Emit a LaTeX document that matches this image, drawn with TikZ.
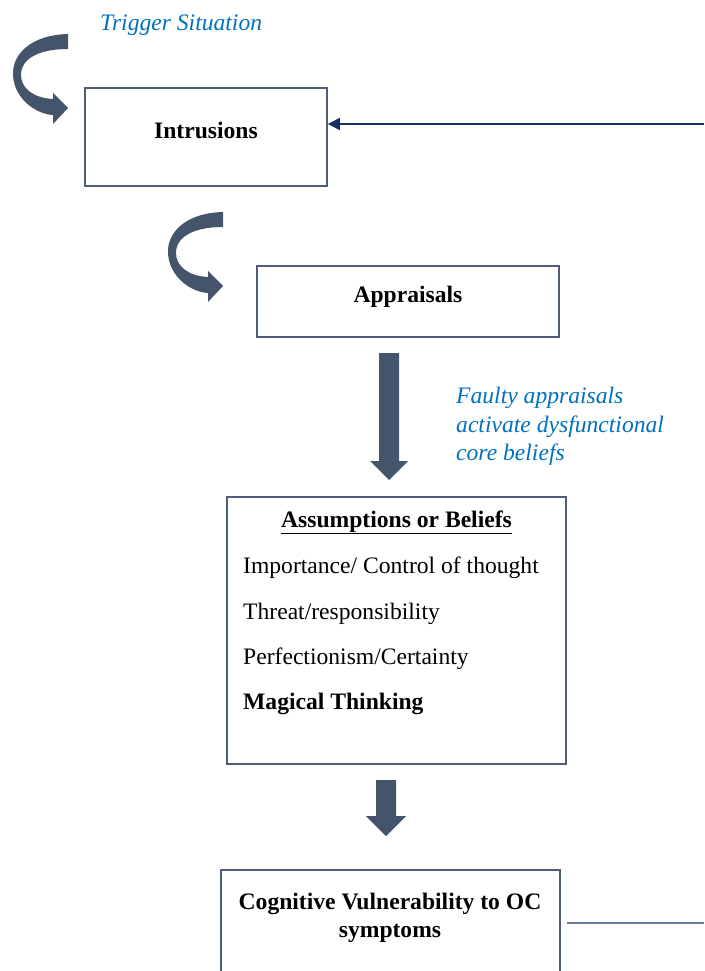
\documentclass[tikz,border=0pt]{standalone}
\usepackage{fontspec}
\setmainfont{Liberation Serif}
\usetikzlibrary{arrows.meta}
\definecolor{slate}{HTML}{44546A}
\definecolor{boxline}{HTML}{4E5E7C}
\definecolor{noteblue}{HTML}{0070C0}
\definecolor{navy}{HTML}{14306A}
\definecolor{loopgray}{HTML}{6B7A97}
\tikzset{
  % ribbon-like curved block arrow, origin at the top end of the outer edge
  curvearrow/.pic={
    \fill[slate] (0,0) .. controls (-38,1) and (-56,21) .. (-55,41)
      .. controls (-54,64) and (-33,80) .. (-15,81)
      -- (-15,90) -- (0,74) -- (-15,59) -- (-15,65)
      .. controls (-35,64) and (-47,54) .. (-47,41)
      .. controls (-47,24) and (-28,15) .. (0,15) -- cycle;
  }
}
\begin{document}
\begin{tikzpicture}[x=1pt,y=-1pt,
  txt/.style={inner sep=0pt, font=\fontsize{23.6pt}{29pt}\selectfont},
  note/.style={inner sep=0pt, text=noteblue, font=\fontsize{23.6pt}{29pt}\selectfont\itshape},
  stage/.style={draw=boxline, line width=1.6pt, fill=white, inner sep=0pt},
  block/.style={fill=slate}]
\useasboundingbox (0,0) rectangle (704,971);
\clip (0,0) rectangle (704,971);

% curved arrows into the first two stages
\pic at (68,34) {curvearrow};
\pic at (223,212) {curvearrow};

% stage boxes
\node[stage, minimum width=242pt, minimum height=98pt] (intr) at (206,137) {};
\node[stage, minimum width=302pt, minimum height=71pt] (appr) at (408,301.5) {};
\node[stage, minimum width=339pt, minimum height=267pt] (assum) at (396.5,630.5) {};
\node[stage, minimum width=339pt, minimum height=160pt] (cog) at (390.5,950) {};

% box texts
\node[txt, anchor=base] (intrT) at (206,139) {\textbf{Intrusions}};
\node[txt, anchor=base] (apprT) at (408,302) {\textbf{Appraisals}};
\node[txt, anchor=base] (assumT) at (396.5,527) {\underline{\textbf{Assumptions or Beliefs}}};
\node[txt, anchor=base west] (itemA) at (243,573) {Importance/ Control of thought};
\node[txt, anchor=base west] (itemB) at (243,619) {Threat/responsibility};
\node[txt, anchor=base west] (itemC) at (243,664) {Perfectionism/Certainty};
\node[txt, anchor=base west] (itemD) at (243,709) {\textbf{Magical Thinking}};
\node[txt, anchor=base] (cogA) at (390,909) {\textbf{Cognitive Vulnerability to OC}};
\node[txt, anchor=base] (cogB) at (390,937) {\textbf{symptoms}};

% notes
\node[note, anchor=base west] (trig) at (100,31) {Trigger Situation};
\node[note, anchor=base west] (noteA) at (456,403) {Faulty appraisals};
\node[note, anchor=base west] (noteB) at (456,432) {activate dysfunctional};
\node[note, anchor=base west] (noteC) at (456,460) {core beliefs};

% straight block arrows
\fill[block] (379,353) -- (399,353) -- (399,461) -- (408,461) -- (389,480)
  -- (370,461) -- (379,461) -- cycle;
\fill[block] (376,780) -- (396,780) -- (396,816) -- (406,816) -- (386,836)
  -- (366,816) -- (376,816) -- cycle;

% feedback loop
\coordinate (loopTop) at (704,124);
\coordinate (loopBot) at (704,923);
\draw[navy, line width=2pt, -{Triangle[length=12pt,width=12pt]}] (loopTop) -- (loopTop -| intr.east);
\draw[loopgray, line width=1.5pt, shorten <=6pt] (cog.east |- loopBot) -- (loopBot);
\end{tikzpicture}
\end{document}
